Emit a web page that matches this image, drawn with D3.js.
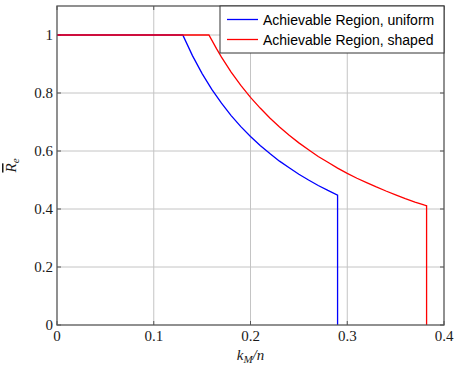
<!DOCTYPE html>
<html>
<head>
<meta charset="utf-8">
<script src="https://cdn.jsdelivr.net/npm/d3@7"></script>
<style>
  body { margin: 0; background: #fff; }
  .tick-label { font-family: "Liberation Serif", serif; font-size: 15px; fill: #1a1a1a; }
  .legend-text { font-family: "Liberation Sans", Arial, sans-serif; font-size: 14px; fill: #000; }
</style>
</head>
<body>
<svg id="chart"></svg>
<script>
var width = 454;
var height = 365;
var padding = { top: 6, right: 10, bottom: 40, left: 57 };

// values
var uniformX = [0, 0.13, 0.14, 0.15, 0.16, 0.17, 0.18, 0.19, 0.20, 0.21, 0.22, 0.23, 0.24, 0.25, 0.26, 0.27, 0.28, 0.29, 0.29];
var uniformY = [1, 1, 0.929, 0.867, 0.8125, 0.765, 0.722, 0.684, 0.65, 0.619, 0.591, 0.565, 0.542, 0.52, 0.50, 0.481, 0.464, 0.448, 0];
var shapedX = [0, 0.157, 0.165, 0.17, 0.18, 0.19, 0.20, 0.21, 0.22, 0.23, 0.24, 0.25, 0.26, 0.27, 0.28, 0.29, 0.30, 0.31, 0.32, 0.33, 0.34, 0.35, 0.36, 0.37, 0.38, 0.382, 0.382];
var shapedY = [1, 1, 0.952, 0.924, 0.872, 0.826, 0.785, 0.748, 0.714, 0.683, 0.654, 0.628, 0.604, 0.581, 0.561, 0.541, 0.523, 0.506, 0.491, 0.476, 0.462, 0.449, 0.436, 0.424, 0.413, 0.411, 0];
var xTicks = [0, 0.1, 0.2, 0.3, 0.4];
var yTicks = [0, 0.2, 0.4, 0.6, 0.8, 1];
var seriesNames = ["Achievable Region, uniform", "Achievable Region, shaped"];
var seriesColors = ["#0000ff", "#ff0000"];

var svg = d3.select("#chart")
    .attr("width", width)
    .attr("height", height);

var x = d3.scaleLinear()
    .domain([0, 0.4])
    .range([padding.left, width - padding.right]);
var y = d3.scaleLinear()
    .domain([0, 1.1])
    .range([height - padding.bottom, padding.top]);

var x0 = x.range()[0], x1 = x.range()[1];
var y0 = y.range()[0], y1 = y.range()[1];

// grid
svg.append("g")
  .selectAll("line")
  .data(xTicks.slice(1, -1))
  .enter()
  .append("line")
    .attr("x1", function(d) { return x(d); })
    .attr("x2", function(d) { return x(d); })
    .attr("y1", y0)
    .attr("y2", y1)
    .attr("stroke", "#c4c4c4")
    .attr("stroke-width", 1);
svg.append("g")
  .selectAll("line")
  .data(yTicks.slice(1))
  .enter()
  .append("line")
    .attr("y1", function(d) { return y(d); })
    .attr("y2", function(d) { return y(d); })
    .attr("x1", x0)
    .attr("x2", x1)
    .attr("stroke", "#c4c4c4")
    .attr("stroke-width", 1);

// inward ticks on all sides
var tickLen = 4;
var tickG = svg.append("g").attr("stroke", "#555").attr("stroke-width", 1);
xTicks.forEach(function(d) {
  tickG.append("line").attr("x1", x(d)).attr("x2", x(d)).attr("y1", y0).attr("y2", y0 - tickLen);
  tickG.append("line").attr("x1", x(d)).attr("x2", x(d)).attr("y1", y1).attr("y2", y1 + tickLen);
});
yTicks.forEach(function(d) {
  tickG.append("line").attr("y1", y(d)).attr("y2", y(d)).attr("x1", x0).attr("x2", x0 + tickLen);
  tickG.append("line").attr("y1", y(d)).attr("y2", y(d)).attr("x1", x1).attr("x2", x1 - tickLen);
});

// curves
var line = d3.line()
    .x(function(d) { return x(d[0]); })
    .y(function(d) { return y(d[1]); });

var series = [
  d3.zip(uniformX, uniformY),
  d3.zip(shapedX, shapedY)
];

svg.append("g")
  .selectAll("path")
  .data(series)
  .enter()
  .append("path")
    .attr("d", line)
    .attr("fill", "none")
    .attr("stroke", function(d, i) { return seriesColors[i]; })
    .attr("stroke-width", 1.3);

// frame
svg.append("rect")
    .attr("x", x0)
    .attr("y", y1)
    .attr("width", x1 - x0)
    .attr("height", y0 - y1)
    .attr("fill", "none")
    .attr("stroke", "#555")
    .attr("stroke-width", 1.3);

// tick labels
svg.append("g")
  .selectAll("text")
  .data(xTicks)
  .enter()
  .append("text")
    .classed("tick-label", true)
    .attr("x", function(d) { return x(d); })
    .attr("y", y0 + 15.5)
    .attr("text-anchor", "middle")
    .text(function(d) { return d === 0 ? "0" : d3.format(".1f")(d); });

svg.append("g")
  .selectAll("text")
  .data(yTicks)
  .enter()
  .append("text")
    .classed("tick-label", true)
    .attr("x", x0 - 4)
    .attr("y", function(d) { return y(d) + 5; })
    .attr("text-anchor", "end")
    .text(function(d) { return d === 0 || d === 1 ? String(d) : d3.format(".1f")(d); });

// axis labels
var xl = svg.append("text")
    .classed("tick-label", true)
    .attr("x", (x0 + x1) / 2)
    .attr("y", height - 5)
    .attr("text-anchor", "middle")
    .style("font-style", "italic");
xl.append("tspan").text("k");
xl.append("tspan").attr("dy", 3).style("font-size", "11px").text("M");
xl.append("tspan").attr("dy", -3).text("/n");

var yl = svg.append("text")
    .classed("tick-label", true)
    .attr("transform", "translate(16," + ((y0 + y1) / 2) + ") rotate(-90)")
    .attr("text-anchor", "middle")
    .style("font-style", "italic");
yl.append("tspan").style("text-decoration", "overline").text("R");
yl.append("tspan").attr("dy", 3).style("font-size", "11px").text("e");

// legend
var legend = svg.append("g");
legend.append("rect")
    .attr("x", 220)
    .attr("y", y1)
    .attr("width", x1 - 220)
    .attr("height", 47)
    .attr("fill", "#fff")
    .attr("stroke", "#333")
    .attr("stroke-width", 1);

seriesNames.forEach(function(name, i) {
  var ly = y1 + 13.5 + i * 20;
  legend.append("line")
      .attr("x1", 227)
      .attr("x2", 258)
      .attr("y1", ly)
      .attr("y2", ly)
      .attr("stroke", seriesColors[i])
      .attr("stroke-width", 1.3);
  legend.append("text")
      .classed("legend-text", true)
      .attr("x", 263)
      .attr("y", ly + 5)
      .text(name);
});
</script>
</body>
</html>
